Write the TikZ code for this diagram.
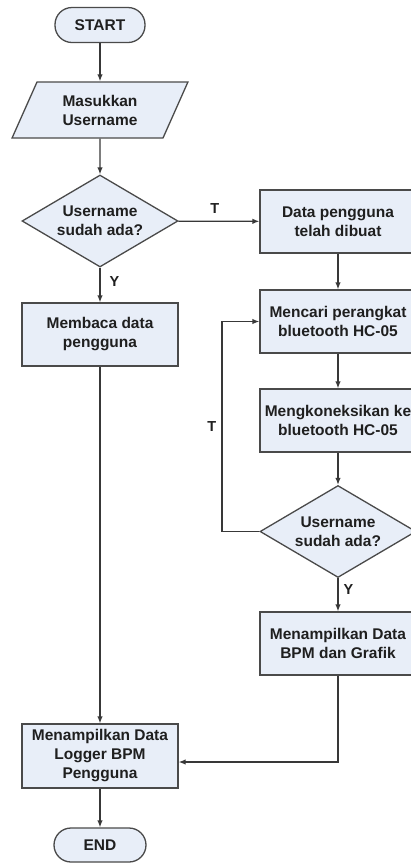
\documentclass[tikz,border=0pt]{standalone}
\usepackage{fontspec}
\setmainfont{Liberation Sans}
\usetikzlibrary{shapes.geometric,arrows.meta,calc}
\definecolor{boxfill}{HTML}{E8EEF8}
\definecolor{boxline}{HTML}{4A4A4A}
\definecolor{arrline}{HTML}{383838}
\tikzset{
  base/.style={draw=boxline, fill=boxfill, line width=1.3pt, font=\fontsize{15.5}{19}\selectfont\bfseries, text=black!88, align=center, inner sep=0pt},
  term/.style={base, rounded corners=17pt, minimum width=90pt, minimum height=35pt},
  proc/.style={base, rectangle, minimum width=156pt, minimum height=63pt},
  io/.style={base, trapezium, trapezium left angle=64, trapezium right angle=116, trapezium stretches=true, minimum width=176pt, minimum height=56pt},
  dia/.style={base, diamond, minimum width=156pt, minimum height=92pt},
  dtext/.style={font=\fontsize{15.5}{19}\selectfont\bfseries, text=black!88, align=center, inner sep=0pt},
  lbl/.style={font=\fontsize{14.5}{16}\selectfont\bfseries, text=black!88, inner sep=0pt},
  arr/.style={draw=arrline, line width=1.3pt, -{Latex[length=7pt,width=5.5pt]}},
  ln/.style={draw=arrline, line width=1.3pt}
}
\begin{document}
\begin{tikzpicture}[x=1pt,y=-1pt]
\useasboundingbox (0,0) rectangle (411,863);
\clip (0,0) rectangle (411,863);
% left column
\node[term] (start) at (100,25) {START};
\node[io] (in) at (100,110) {Masukkan\\Username};
\node[dia] (d1) at (100,221) {};
\node[dtext] (d1t) at (100,221) {Username\\sudah ada?};
\node[proc] (baca) at (100,334.5) {Membaca data\\pengguna};
\node[proc, minimum height=64pt] (lg) at (100,756) {Menampilkan Data\\Logger BPM\\Pengguna};
\node[term, minimum width=92pt, minimum height=34pt] (end) at (100,845) {END};
% right column
\node[proc] (buat) at (338,221.5) {Data pengguna\\telah dibuat};
\node[proc] (cari) at (338,321.5) {Mencari perangkat\\bluetooth HC-05};
\node[proc] (kon) at (338,420.5) {Mengkoneksikan ke\\bluetooth HC-05};
\node[dia] (d2) at (338,531.5) {};
\node[dtext] (d2t) at (338,531.5) {Username\\sudah ada?};
\node[proc] (bpm) at (338,643.5) {Menampilkan Data\\BPM dan Grafik};
% connectors
\draw[arr] (start) -- (in);
\draw[arr] (in) -- (d1);
\draw[arr] (d1) -- node[lbl, right, pos=0.4, xshift=9pt] (y1) {Y} (baca);
\draw[arr] (d1) -- node[lbl, above, pos=0.45, yshift=7pt] (t1) {T} (buat);
\draw[arr] (baca) -- (lg);
\draw[arr] (buat) -- (cari);
\draw[arr] (cari) -- (kon);
\draw[arr] (kon) -- (d2);
\draw[arr] (d2) -- node[lbl, right, pos=0.35, xshift=5pt] (y2) {Y} (bpm);
\coordinate (lp) at (222,531.5);
\draw[arr] (d2.west) -- (lp) -- node[lbl, left, pos=0.5, xshift=-5pt] (t2) {T} (lp |- cari.west) -- (cari.west);
\coordinate (j2) at (338,762);
\draw[arr] (bpm.south) -- (j2) -- (lg.east |- j2);
\draw[arr] (lg) -- (end);
\end{tikzpicture}
\end{document}
